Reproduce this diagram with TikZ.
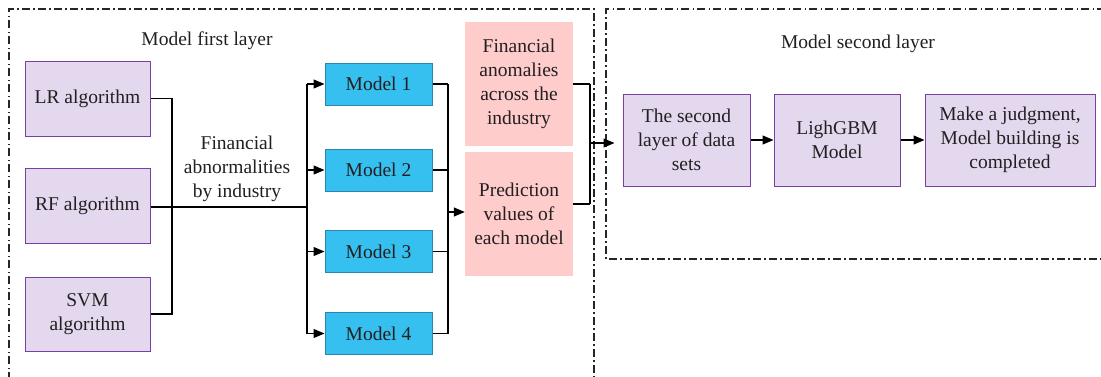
\documentclass[tikz,border=0pt]{standalone}
\usepackage{fontspec}
\setmainfont{Liberation Serif}
\usetikzlibrary{arrows.meta}
\definecolor{pfill}{HTML}{E4D8EE}
\definecolor{pline}{HTML}{7A3FA0}
\definecolor{bfill}{HTML}{35C0F0}
\definecolor{bline}{HTML}{2A86B0}
\definecolor{pink}{HTML}{FFCCCC}
\definecolor{txt}{HTML}{231F20}
\tikzset{
  every node/.style={font=\fontsize{19.5}{24}\selectfont, text=txt},
  algbox/.style={draw=pline, fill=pfill, line width=1pt, align=center, inner sep=2pt},
  modbox/.style={draw=bline, fill=bfill, line width=1pt, align=center, minimum width=107pt, minimum height=42pt},
  pinkbox/.style={fill=pink, align=center, minimum width=108pt, minimum height=124pt},
  conn/.style={line width=1.2pt, draw=black},
  arr/.style={conn, -{Triangle[length=11pt,width=9pt]}},
  frame/.style={line width=1.2pt, draw=black!85, dash pattern=on 8pt off 3pt on 1.5pt off 3.5pt},
}
\begin{document}
\begin{tikzpicture}[x=1pt,y=-1pt]
\useasboundingbox (0,0) rectangle (1101,376);
% frames
\draw[frame] (9,380) -- (9,9) -- (594,9) -- (594,380);
\draw[frame] (1105,9) -- (606,9) -- (606,259) -- (1105,259);
\node (t1) at (207,41) {Model first layer};
\node (t2) at (858,44) {Model second layer};
% algorithms
\node[algbox, minimum width=125pt, minimum height=75pt] (lr) at (87.5,98.5) {LR algorithm};
\node[algbox, minimum width=125pt, minimum height=75pt] (rf) at (87.5,205.5) {\raisebox{-2pt}{RF algorithm}};
\node[algbox, minimum width=125pt, minimum height=74pt] (svm) at (87.5,314) {SVM\\algorithm};
\node (fa) at (237,169) [align=center] {Financial\\abnormalities\\by industry};
% models
\node[modbox] (m1) at (378.5,84) {Model 1};
\node[modbox] (m2) at (378.5,170) {Model 2};
\node[modbox] (m3) at (378.5,251.5) {Model 3};
\node[modbox] (m4) at (378.5,333.5) {Model 4};
% pink
\node[pinkbox] (p1) at (519,84) {Financial\\anomalies\\across the\\industry};
\node[pinkbox] (p2) at (519,214) {Prediction\\values of\\each model};
% second layer
\node[algbox, minimum width=127pt, minimum height=92pt] (s1) at (686.5,140) {The second\\layer of data\\sets};
\node[algbox, minimum width=126pt, minimum height=92pt] (s2) at (837,140) {LighGBM\\Model};
\node[algbox, minimum width=170pt, minimum height=92pt] (s3) at (1010,140) {Make a judgment,\\Model building is\\completed};
% coordinates
\coordinate (j1) at (172,98.5);
\coordinate (j2) at (307,207);
\coordinate (j3) at (448,212);
\coordinate (j4) at (590,143);
% connectors first column
\draw[conn] (lr.east) -- (lr.east -| j1) |- (svm.east);
\draw[conn] (rf.east |- j2) -- (j2);
\draw[conn] (j2 |- m1.west) -- (j2 |- m4.west);
\foreach \m in {m1,m2,m3,m4} \draw[arr] (j2 |- \m.west) -- (\m.west);
% models to pink
\foreach \m in {m1,m2,m3,m4} \draw[conn] (\m.east) -- (\m.east -| j3);
\draw[conn] (j3 |- m1.east) -- (j3 |- m4.east);
\draw[arr] (j3) -- (j3 -| p2.west);
% pink to second layer
\draw[conn] (p1.east) -- (p1.east -| j4);
\draw[conn] (p2.east |- 0,204) -- (j4 |- 0,204);
\draw[conn] (j4 |- p1.east) -- (j4 |- 0,204);
\draw[arr, shorten >=8pt] (j4) -- (j4 -| s1.west);
% second layer arrows
\draw[arr] (s1.east) -- (s2.west);
\draw[arr] (s2.east) -- (s3.west);
\end{tikzpicture}
\end{document}
